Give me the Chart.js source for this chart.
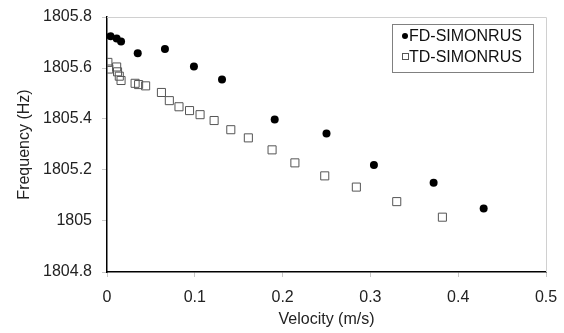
<!DOCTYPE html>
<html>
<head>
<meta charset="utf-8">
<script src="https://cdn.jsdelivr.net/npm/chart.js@4/dist/chart.umd.min.js"></script>
<style>
  html, body { margin: 0; padding: 0; background: #fff; }
  #wrap { width: 564px; height: 333px; }
</style>
</head>
<body>
<div id="wrap"><canvas id="chart" width="564" height="333"></canvas></div>
<script>
// values
const fdVelocity = [0.004, 0.011, 0.016, 0.035, 0.066, 0.099, 0.131, 0.191, 0.250, 0.304, 0.372, 0.429];
const fdFrequency = [1805.725, 1805.716, 1805.704, 1805.658, 1805.675, 1805.606, 1805.555, 1805.398, 1805.343, 1805.220, 1805.150, 1805.049];

const tdVelocity = [0.001, 0.002, 0.011, 0.012, 0.014, 0.016, 0.032, 0.036, 0.044, 0.062, 0.071, 0.082, 0.094, 0.106, 0.122, 0.141, 0.161, 0.188, 0.214, 0.248, 0.284, 0.330, 0.382];
const tdFrequency = [1805.622, 1805.596, 1805.604, 1805.585, 1805.568, 1805.551, 1805.540, 1805.535, 1805.530, 1805.504, 1805.472, 1805.448, 1805.433, 1805.417, 1805.394, 1805.358, 1805.326, 1805.279, 1805.228, 1805.177, 1805.133, 1805.076, 1805.015];

const seriesNames = ['FD-SIMONRUS', 'TD-SIMONRUS'];

function toPoints(xs, ys) {
  return xs.map((x, i) => ({ x: x, y: ys[i] }));
}

const FONT = '"Liberation Sans", Arial, sans-serif';
const FS = 16;

// light frame on top/right + legend box inside the plot
const framePlugin = {
  id: 'frame',
  afterDraw(chart) {
    const ctx = chart.ctx;
    const a = chart.chartArea;
    ctx.save();
    ctx.strokeStyle = '#d0d0d0';
    ctx.lineWidth = 1;
    ctx.beginPath();
    ctx.moveTo(a.left, a.top + 0.5);
    ctx.lineTo(a.right + 0.5, a.top + 0.5);
    ctx.lineTo(a.right + 0.5, a.bottom);
    ctx.stroke();

    // legend
    const bx = 392.5, by = 24.5, bw = 141, bh = 48;
    ctx.strokeStyle = '#808080';
    ctx.fillStyle = '#fff';
    ctx.fillRect(bx, by, bw, bh);
    ctx.strokeRect(bx, by, bw, bh);
    ctx.font = FS + 'px ' + FONT;
    ctx.textBaseline = 'middle';
    ctx.textAlign = 'left';
    const rows = [36, 57];
    chart.data.datasets.forEach((ds, i) => {
      const cy = rows[i];
      if (ds.pointStyle === 'circle') {
        ctx.fillStyle = '#000';
        ctx.beginPath();
        ctx.arc(405, cy, 3, 0, Math.PI * 2);
        ctx.fill();
      } else {
        ctx.fillStyle = '#fff';
        ctx.strokeStyle = '#555';
        ctx.fillRect(402.5, cy - 3.5, 6, 6);
        ctx.strokeRect(402.5, cy - 3.5, 6, 6);
      }
      ctx.fillStyle = '#111';
      ctx.fillText(ds.label, 409, cy + 1);
    });
    ctx.restore();
  }
};

new Chart(document.getElementById('chart'), {
  type: 'scatter',
  data: {
    datasets: [
      {
        label: seriesNames[0],
        data: toPoints(fdVelocity, fdFrequency),
        pointStyle: 'circle',
        pointRadius: 4,
        pointBackgroundColor: '#000',
        pointBorderColor: '#000',
        pointBorderWidth: 0
      },
      {
        label: seriesNames[1],
        data: toPoints(tdVelocity, tdFrequency),
        pointStyle: 'rect',
        pointRadius: 5.7,
        pointBackgroundColor: 'rgba(255,255,255,0)',
        pointBorderColor: '#555',
        pointBorderWidth: 1
      }
    ]
  },
  options: {
    responsive: false,
    animation: false,
    layout: { padding: { left: 0, right: 18, top: 17, bottom: 0 } },
    plugins: {
      legend: { display: false },
      tooltip: { enabled: false }
    },
    scales: {
      x: {
        type: 'linear',
        min: 0,
        max: 0.5,
        ticks: {
          stepSize: 0.1,
          color: '#222',
          font: { family: FONT, size: FS },
          padding: 11,
          callback: v => String(+v.toFixed(1))
        },
        grid: { display: true, drawOnChartArea: false, drawTicks: true, tickLength: 5, color: '#c8c8c8' },
        border: { display: true, color: '#000', width: 1.5 },
        title: { display: true, text: 'Velocity (m/s)', color: '#222', font: { family: FONT, size: FS }, padding: { top: 0, bottom: 3.5 } },
        afterFit: s => { s.height = 61; s.paddingLeft = 0; s.paddingRight = 0; }
      },
      y: {
        type: 'linear',
        min: 1804.8,
        max: 1805.8,
        ticks: {
          stepSize: 0.2,
          color: '#222',
          font: { family: FONT, size: FS },
          padding: 10,
          callback: v => String(+v.toFixed(1))
        },
        grid: { display: true, drawOnChartArea: false, drawTicks: true, tickLength: 5, color: '#c8c8c8' },
        border: { display: true, color: '#000', width: 1.5 },
        title: { display: true, text: 'Frequency (Hz)', color: '#222', font: { family: FONT, size: FS }, padding: { top: 15, bottom: 0 } },
        afterFit: s => { s.width = 107; s.paddingTop = 0; s.paddingBottom = 0; }
      }
    }
  },
  plugins: [framePlugin]
});
</script>
</body>
</html>
